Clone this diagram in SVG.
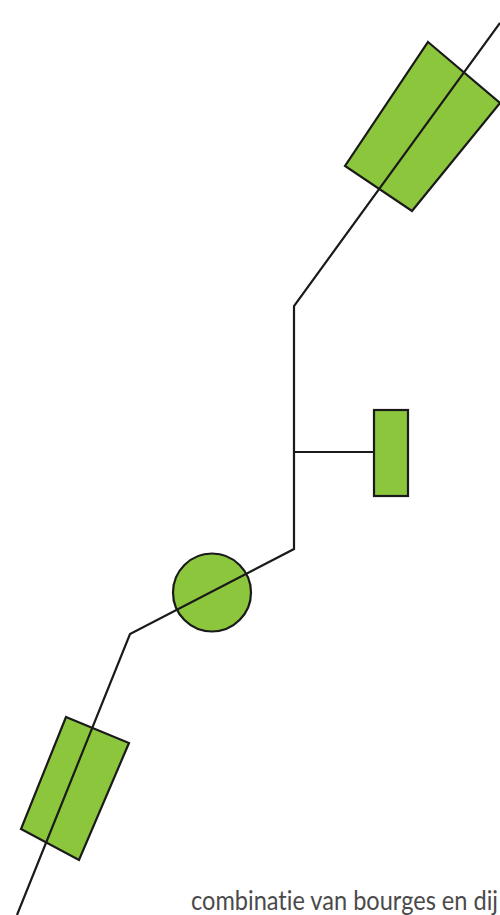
<svg xmlns="http://www.w3.org/2000/svg" width="500" height="915" viewBox="0 0 500 915">
<style>
.n{fill:#8cc63c;stroke:#1a1a1a;stroke-width:2.2}
.c{fill:none;stroke:#1a1a1a;stroke-width:2.2;stroke-linejoin:miter}
.t{font-family:"Lato","Liberation Sans",sans-serif;font-size:26px;fill:#4a4a4a;font-variant-ligatures:none}
</style>
<rect width="500" height="915" fill="#fff"/>
<g id="node-top"><polygon class="n" points="428,42 500,103 412,211 345,166"/></g>
<g id="node-mid"><rect class="n" x="374" y="410" width="34" height="86"/></g>
<g id="node-circle"><circle class="n" cx="212" cy="592.500" r="39"/></g>
<g id="node-bottom"><polygon class="n" points="66,717 129,743 79,860 21,829"/></g>
<g id="connectors">
<polyline class="c" points="500,23 294,306 294,549 130,634 17,915"/>
<line class="c" x1="294" y1="452" x2="374" y2="452"/>
</g>
<text class="t" x="191" y="910" textLength="307" lengthAdjust="spacingAndGlyphs">combinatie van bourges en dij</text>
</svg>
